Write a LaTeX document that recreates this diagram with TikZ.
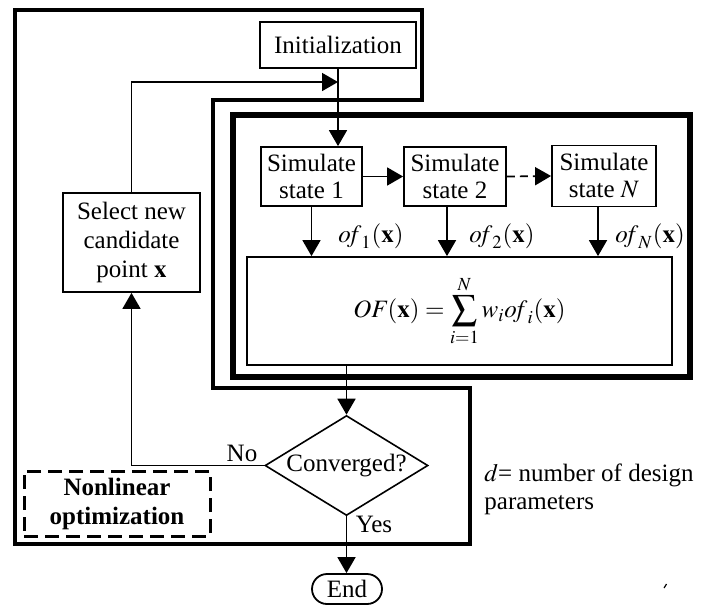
\documentclass[tikz,border=0pt]{standalone}
\usepackage{mathptmx}
\usepackage[no-math]{fontspec}
\setmainfont{Liberation Serif}
\usetikzlibrary{arrows.meta,shapes.geometric,shapes.misc}
\begin{document}
\begin{tikzpicture}[x=0.5pt,y=-0.5pt,
  font=\fontsize{12.5}{14}\selectfont,
  box/.style={draw, line width=0.9pt, inner sep=0pt, align=center},
  frame/.style={line width=2.4pt},
  conn/.style={line width=0.85pt, -{Triangle[length=8pt,width=9pt]}},
  lbl/.style={inner sep=0pt}]
\useasboundingbox[fill=white] (0,0) rectangle (705,606);

% frames
\draw[frame] (15,10) -- (422,10) -- (422,100) -- (213,100) -- (213,388) -- (470,388) -- (470,544) -- (15,544) -- cycle;
\draw[frame, line width=2.8pt] (233,115) rectangle (690,377);

% nodes
\node[box, minimum width=78pt, minimum height=23pt] (init) at (338,45) {Initialization};
\node[box, minimum width=50.5pt, minimum height=29.5pt, font=\fontsize{12.5}{13.5}\selectfont] (s1) at (311.5,176.5) {Simulate\\state 1};
\node[box, minimum width=51pt, minimum height=29.5pt, font=\fontsize{12.5}{13.5}\selectfont] (s2) at (455,176.5) {Simulate\\state 2};
\node[box, minimum width=52pt, minimum height=30.5pt, font=\fontsize{12.5}{13.5}\selectfont] (sN) at (604,176) {Simulate\\state $N$};
\node[box, minimum width=212.5pt, minimum height=54pt] (of) at (459.5,311) {$\displaystyle \mathit{OF}(\mathbf{x})=\sum_{i=1}^{N} w_i \mathit{of}_i(\mathbf{x})$};
\node[box, minimum width=68.5pt, minimum height=49.5pt, font=\fontsize{12.5}{14.5}\selectfont] (sel) at (131.5,242.5) {Select new\\candidate\\point $\mathbf{x}$};
\node[draw, diamond, aspect=1.63, inner sep=0pt, minimum width=81.5pt, minimum height=50pt, line width=0.8pt] (dia) at (346.5,465.5) {Converged?};
\node[draw, rounded rectangle, minimum width=35pt, minimum height=15pt, inner sep=0pt, line width=0.9pt] (end) at (347,589) {End};
\node[draw, line width=1.5pt, dash pattern=on 7pt off 3.5pt, minimum width=93pt, minimum height=32.5pt, inner sep=0pt, align=center, font=\fontsize{12.5}{14.5}\selectfont\bfseries] (nlo) at (117,503.5) {Nonlinear\\optimization};

% labels
\node[lbl] (of1) at (371,236) {$\mathit{of}_1(\mathbf{x})$};
\node[lbl] (of2) at (502,236) {$\mathit{of}_2(\mathbf{x})$};
\node[lbl] (ofN) at (650,236) {$\mathit{of}_N(\mathbf{x})$};
\node[lbl] (no) at (242,453) {No};
\node[lbl] (yes) at (374,524) {Yes};
\node[lbl, anchor=west, align=left, font=\fontsize{12.5}{14}\selectfont] (dn) at (484,489) {$d$= number of design\\parameters};

% connectors
\coordinate (j) at (init.south |- 0,82);
\coordinate (s2b) at ([xshift=-4pt]s2.south);
\coordinate (sNb) at ([xshift=-3pt]sN.south);
\draw[line width=0.85pt] (init.south) -- (j);
\draw[conn] (j) -- (init.south |- s1.north);
\draw[conn] (sel.north) |- (j);
\draw[conn] (s1.east) -- (s2.west);
\draw[conn, dash pattern=on 4pt off 2.5pt] (s2.east) -- (sN.west);
\draw[conn] (s1.south) -- (s1.south |- of.north);
\draw[conn] (s2b) -- (s2b |- of.north);
\draw[conn] (sNb) -- (sNb |- of.north);
\draw[conn] (dia.north |- of.south) -- (dia.north);
\draw[conn] (dia.west) -| (sel.south);
\draw[conn] (dia.south) -- (dia.south |- end.north);

% stray mark
\draw[line width=0.6pt] (664,588) -- (666.5,584);
\end{tikzpicture}
\end{document}
